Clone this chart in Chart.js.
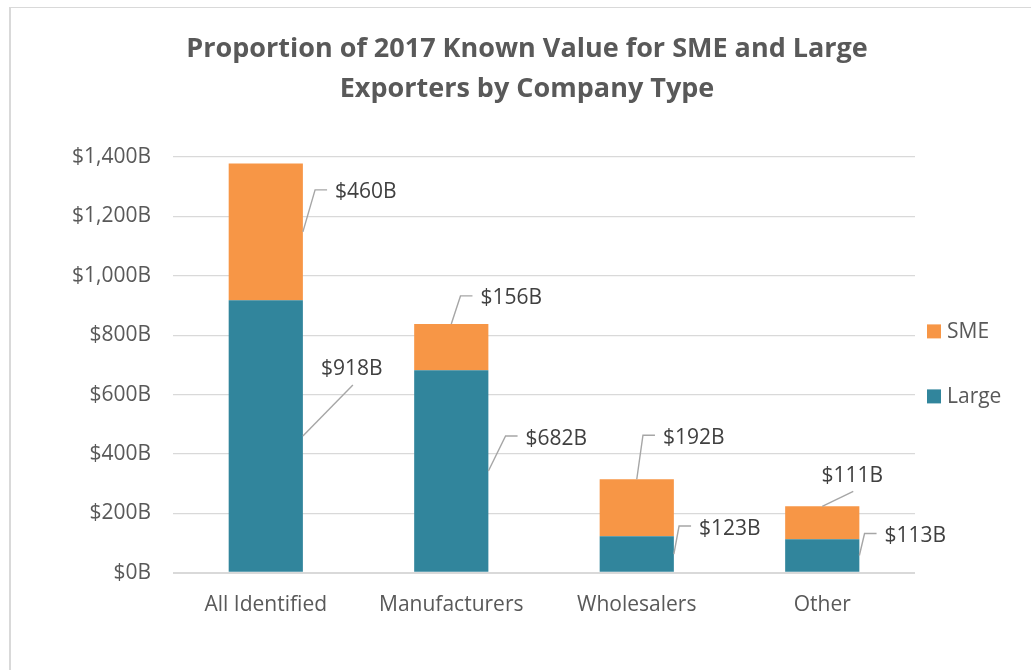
<!DOCTYPE html>
<html><head><meta charset="utf-8">
<script src="https://cdn.jsdelivr.net/npm/chart.js@4.4.0/dist/chart.umd.min.js"></script>
<style>html,body{margin:0;padding:0;background:#fff;overflow:hidden}</style>
</head><body>
<canvas id="c" width="1031" height="670" style="display:block;width:1031px;height:670px"></canvas>
<script>
// ---- data ----
const categories = ['All Identified', 'Manufacturers', 'Wholesalers', 'Other'];
const largeValues = [918, 682, 123, 113];
const smeValues = [460, 156, 192, 111];
const yTickValues = [0, 200, 400, 600, 800, 1000, 1200, 1400];
const titleLines = ['Proportion of 2017 Known Value for SME and Large', 'Exporters by Company Type'];

// ---- label placement (styling only) ----
const largeLabelLayout = [
  {anchor: 'right', dx: 49, dy: -68, leader: 'below'},
  {anchor: 'right', dx: 68, dy: -34, leader: 'side'},
  {anchor: 'right', dx: 56, dy: -27, leader: 'side'},
  {anchor: 'right', dx: 56, dy: -21, leader: 'side'}
];
const smeLabelLayout = [
  {anchor: 'right', dx: 63, dy: -41, leader: 'side'},
  {anchor: 'top', dx: 60, dy: -27, leader: 'side'},
  {anchor: 'top', dx: 57, dy: -43, leader: 'side'},
  {anchor: 'top', dx: 30, dy: -32, leader: 'below'}
];

const FONT = "'Open Sans', 'Noto Sans', sans-serif";
const TEAL = '#31859C';
const ORANGE = '#F79646';

const fmt = v => '$' + Number(v).toLocaleString('en-US') + 'B';

const framePlugin = {
  id: 'frame',
  beforeDraw(chart) {
    const ctx = chart.ctx;
    ctx.save();
    ctx.fillStyle = '#ffffff';
    ctx.fillRect(0, 0, chart.width, chart.height);
    ctx.fillStyle = '#d9d9d9';
    ctx.fillRect(9, 7, 2, chart.height - 7);
    ctx.fillRect(9, 7, chart.width - 9, 1);
    // title
    ctx.fillStyle = '#595959';
    ctx.font = 'bold 27px ' + FONT;
    ctx.textAlign = 'center';
    ctx.textBaseline = 'middle';
    titleLines.forEach((t, i) => ctx.fillText(t, 527, 49 + i * 40));
    ctx.restore();
  }
};

const labelPlugin = {
  id: 'leaderLabels',
  afterDatasetsDraw(chart) {
    const ctx = chart.ctx;
    ctx.save();
    ctx.font = '21px ' + FONT;
    chart.data.datasets.forEach((ds, di) => {
      const meta = chart.getDatasetMeta(di);
      const layout = ds.labelLayout;
      meta.data.forEach((bar, i) => {
        const p = bar.getProps(['x', 'y', 'base', 'width'], true);
        const L = layout[i];
        let ax, ay;
        if (L.anchor === 'right') { ax = p.x + p.width / 2; ay = (p.y + p.base) / 2; }
        else { ax = p.x; ay = p.y; }
        const cx = ax + L.dx, cy = ay + L.dy;
        const text = fmt(ds.data[i]);
        const w = ctx.measureText(text).width;
        ctx.strokeStyle = '#a6a6a6';
        ctx.lineWidth = 1.4;
        ctx.beginPath();
        ctx.moveTo(ax, ay);
        if (L.leader === 'side') {
          const ex = cx - w / 2 - 8, ey = cy - 1;
          ctx.lineTo(ex - 12, ey);
          ctx.lineTo(ex, ey);
        } else {
          ctx.lineTo(cx + 1, cy + 17);
        }
        ctx.stroke();
        ctx.fillStyle = '#404040';
        ctx.textAlign = 'center';
        ctx.textBaseline = 'middle';
        ctx.fillText(text, cx, cy + 1.5);
      });
    });
    ctx.restore();
  }
};

const legendPlugin = {
  id: 'sideLegend',
  afterDraw(chart) {
    const ctx = chart.ctx;
    const a = chart.chartArea;
    const mid = (a.top + a.bottom) / 2 - 1;
    const items = chart.data.datasets.slice().reverse();
    const spacing = 65;
    ctx.save();
    ctx.font = '21px ' + FONT;
    ctx.textBaseline = 'middle';
    ctx.textAlign = 'left';
    items.forEach((ds, k) => {
      const cy = mid + (k - (items.length - 1) / 2) * spacing;
      const bx = a.right + 12;
      ctx.fillStyle = ds.backgroundColor;
      ctx.fillRect(bx, cy - 7, 14, 14);
      ctx.fillStyle = '#595959';
      ctx.fillText(ds.label, bx + 20, cy + 1);
    });
    ctx.restore();
  }
};

new Chart(document.getElementById('c'), {
  type: 'bar',
  data: {
    labels: categories,
    datasets: [
      {label: 'Large', data: largeValues, backgroundColor: TEAL, labelLayout: largeLabelLayout,
       categoryPercentage: 0.4, barPercentage: 1.0},
      {label: 'SME', data: smeValues, backgroundColor: ORANGE, labelLayout: smeLabelLayout,
       categoryPercentage: 0.4, barPercentage: 1.0}
    ]
  },
  options: {
    responsive: false,
    animation: false,
    devicePixelRatio: 1,
    layout: {padding: {left: 50, right: 116, top: 157, bottom: 32}},
    plugins: {
      legend: {display: false},
      tooltip: {enabled: false},
      title: {display: false}
    },
    scales: {
      x: {
        stacked: true,
        grid: {display: false, drawTicks: false},
        border: {display: false},
        ticks: {color: '#595959', font: {family: FONT, size: 21}, padding: 20}
      },
      y: {
        stacked: true,
        min: 0, max: 1400,
        afterBuildTicks: axis => { axis.ticks = yTickValues.map(v => ({value: v})); },
        grid: {color: '#d9d9d9', lineWidth: c => (c.tick && c.tick.value === 0 ? 2 : 1.2), drawTicks: false},
        border: {display: false},
        ticks: {color: '#595959', font: {family: FONT, size: 21}, padding: 22, callback: v => fmt(v)}
      }
    }
  },
  plugins: [framePlugin, labelPlugin, legendPlugin]
});
</script>
</body></html>
